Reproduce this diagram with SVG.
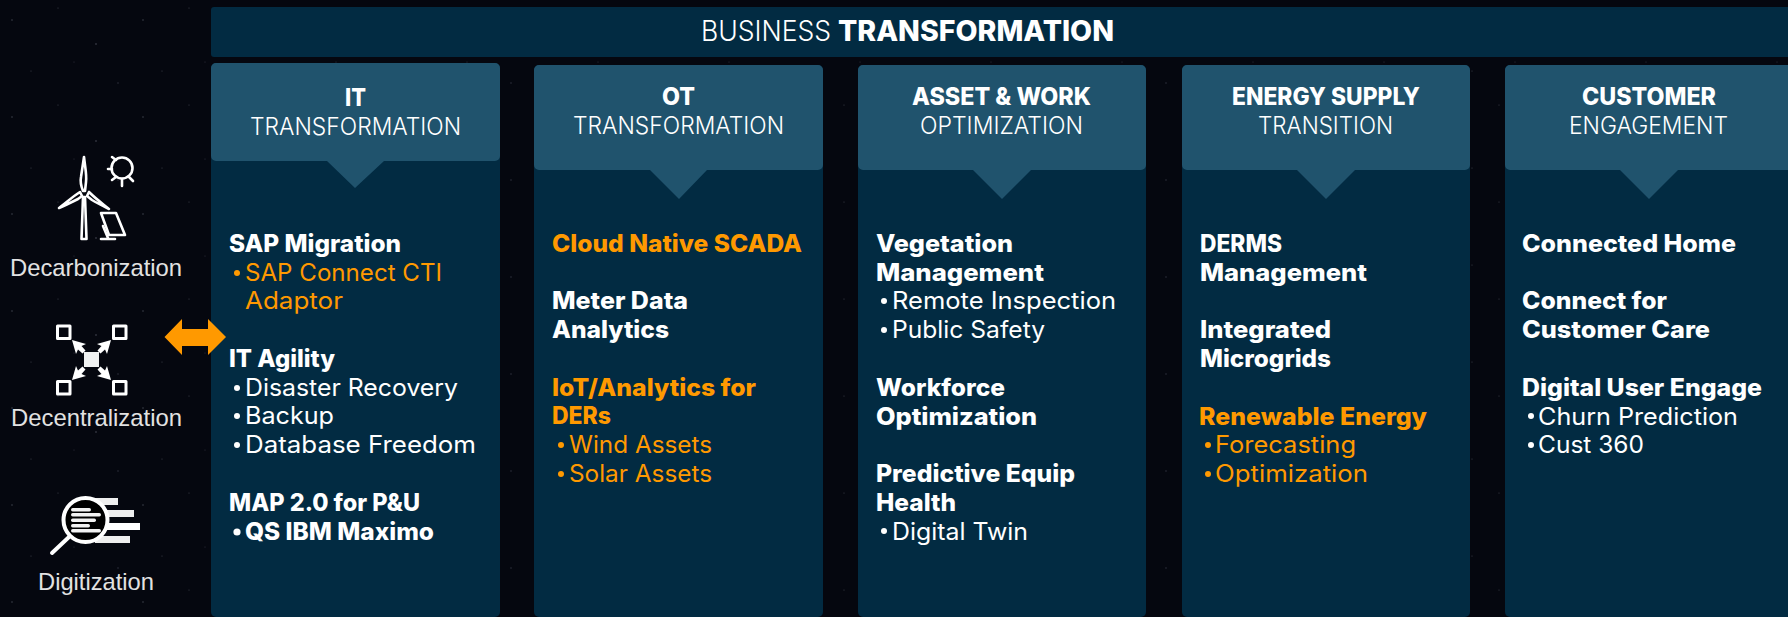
<svg xmlns="http://www.w3.org/2000/svg" width="1788" height="617" viewBox="0 0 1788 617">
<style>
text{font-family:Inter,"Liberation Sans",sans-serif;font-size:24px;fill:#fff;font-weight:400}
.b{font-weight:800}
.r{font-weight:400}
.o{fill:#ff9900}
.h{font-size:24px}
.t{font-weight:300}
.l{font-family:"Liberation Sans",Arial,sans-serif;font-size:24px;fill:#e2e2e2}
.body{fill:#022b42}
.head{fill:#20536d}
.dot{fill:#fff}
.dot.o{fill:#ff9900}
.ic{fill:none;stroke:#fff;stroke-width:2.6;stroke-linejoin:round;stroke-linecap:round}
</style>
<defs>
<pattern id="stars" width="131" height="97" patternUnits="userSpaceOnUse">
<rect width="131" height="97" fill="#05070f"/>
<g fill="#8a90a0">
<circle cx="12" cy="20" r=".7" opacity=".5"/><circle cx="58" cy="8" r=".6" opacity=".4"/><circle cx="96" cy="44" r=".8" opacity=".5"/><circle cx="31" cy="71" r=".6" opacity=".4"/><circle cx="118" cy="83" r=".7" opacity=".35"/><circle cx="74" cy="62" r=".5" opacity=".35"/>
</g>
</pattern>
</defs>
<rect width="1788" height="617" fill="url(#stars)"/>
<g id="banner">
<path class="body" d="M214 7H1788V57H214a3 3 0 0 1-3-3V10a3 3 0 0 1 3-3z"/>
<text class="t" x="701" y="41" style="font-size:28px" textLength="130" lengthAdjust="spacingAndGlyphs">BUSINESS</text>
<text class="b" x="838" y="41" style="font-size:28px" textLength="276" lengthAdjust="spacingAndGlyphs">TRANSFORMATION</text>
</g>
<g id="decarbonization">
<path class="ic" d="M84 157C85 167 87 175 86 182L85 191H83C81 186 80 182 81 177C82 170 83 164 84 157Z"/>
<path class="ic" d="M59 208C66 203 72 197 80 192L82 196L78 199C72 202 66 205 59 208Z"/>
<path class="ic" d="M109 209C103 204 96 199 89 192L87 196L92 200C97 203 103 206 109 209Z"/>
<path class="ic" d="M83 197H85L86.500 239H81.500Z"/>
<circle class="ic" cx="122" cy="168" r="10.500"/>
<path class="ic" d="M108 169H112M112 157L116 160M112 180L116 177M122 179V186M129 177L133 181"/>
<path class="ic" d="M101 213H116L125 235H109Z"/>
<path class="ic" d="M103 226L108 238M101 239H115"/>
<text class="l" x="10" y="276" textLength="172" lengthAdjust="spacingAndGlyphs">Decarbonization</text>
</g>
<g id="decentralization">
<path class="ic" style="stroke-width:3" d="M57.500 326H70V338.500H57.500ZM113.500 326H126V338.500H113.500ZM57.500 381.500H70V394H57.500ZM113.500 381.500H126V394H113.500Z"/>
<rect x="84" y="352" width="15" height="15" fill="#f0f2f2"/>
<path d="M72 340L86 344L81.500 346L85.500 350.500L82.500 353.500L78 349.500L76 354Z M111 340L97 344L101.500 346L97.500 350.500L100.500 353.500L105 349.500L107 354Z M72 380L86 376L81.500 374L85.500 369.500L82.500 366.500L78 370.500L76 366Z M111 380L97 376L101.500 374L97.500 369.500L100.500 366.500L105 370.500L107 366Z" fill="#fff"/>
<text class="l" x="11" y="426" textLength="171" lengthAdjust="spacingAndGlyphs">Decentralization</text>
</g>
<g id="digitization">
<rect x="95" y="498" width="23" height="7" fill="#eeeeee"/>
<rect x="100" y="510" width="34" height="7" fill="#eeeeee"/>
<rect x="100" y="523" width="40" height="7" fill="#ffffff"/>
<rect x="95" y="536" width="35" height="7" fill="#eeeeee"/>
<path d="M52 553L69 537" stroke="#fff" stroke-width="4" stroke-linecap="round"/>
<circle cx="85.500" cy="520" r="22" fill="#000" stroke="#fff" stroke-width="4"/>
<g fill="#f2f2f2"><rect x="71" y="508" width="20" height="3.500" rx="1.700"/><rect x="71" y="513" width="30" height="3.500" rx="1.700"/><rect x="71" y="518.500" width="25" height="3.500" rx="1.700"/><rect x="71" y="524" width="19" height="3.500" rx="1.700"/><rect x="71" y="529" width="30" height="3.500" rx="1.700"/></g>
<text class="l" x="38" y="590" textLength="116" lengthAdjust="spacingAndGlyphs">Digitization</text>
</g>
<g id="col-it">
<rect class="body" x="211" y="63" width="289" height="554" rx="5"/>
<path class="head" d="M216 63H495a5 5 0 0 1 5 5V156a5 5 0 0 1-5 5H384L355 188L327 161H216a5 5 0 0 1-5-5V68a5 5 0 0 1 5-5z"/>
<text class="b h" x="345" y="106" textLength="21" lengthAdjust="spacingAndGlyphs">IT</text>
<text class="t h" x="250" y="135" textLength="211" lengthAdjust="spacingAndGlyphs">TRANSFORMATION</text>
<text class="b" x="229" y="252" textLength="172" lengthAdjust="spacingAndGlyphs">SAP Migration</text>
<circle class="dot o" cx="237" cy="273" r="3"/>
<text class="r o" x="245" y="281" textLength="197" lengthAdjust="spacingAndGlyphs">SAP Connect CTI</text>
<text class="r o" x="245" y="309" textLength="98" lengthAdjust="spacingAndGlyphs">Adaptor</text>
<text class="b" x="229" y="367" textLength="106" lengthAdjust="spacingAndGlyphs">IT Agility</text>
<circle class="dot" cx="237" cy="388" r="3"/>
<text class="r" x="245" y="396" textLength="213" lengthAdjust="spacingAndGlyphs">Disaster Recovery</text>
<circle class="dot" cx="237" cy="416" r="3"/>
<text class="r" x="245" y="424" textLength="89" lengthAdjust="spacingAndGlyphs">Backup</text>
<circle class="dot" cx="237" cy="445" r="3"/>
<text class="r" x="245" y="453" textLength="231" lengthAdjust="spacingAndGlyphs">Database Freedom</text>
<text class="b" x="229" y="511" textLength="191" lengthAdjust="spacingAndGlyphs">MAP 2.0 for P&amp;U</text>
<circle class="dot" cx="237" cy="532" r="3.600"/>
<text class="b" x="245" y="540" textLength="189" lengthAdjust="spacingAndGlyphs">QS IBM Maximo</text>
</g>
<g id="col-ot">
<rect class="body" x="534" y="65" width="289" height="552" rx="5"/>
<path class="head" d="M539 65H818a5 5 0 0 1 5 5V165a5 5 0 0 1-5 5H707L679 199L650 170H539a5 5 0 0 1-5-5V70a5 5 0 0 1 5-5z"/>
<text class="b h" x="662" y="105" textLength="33" lengthAdjust="spacingAndGlyphs">OT</text>
<text class="t h" x="573" y="134" textLength="211" lengthAdjust="spacingAndGlyphs">TRANSFORMATION</text>
<text class="b o" x="552" y="252" textLength="250" lengthAdjust="spacingAndGlyphs">Cloud Native SCADA</text>
<text class="b" x="552" y="309" textLength="136" lengthAdjust="spacingAndGlyphs">Meter Data</text>
<text class="b" x="552" y="338" textLength="117" lengthAdjust="spacingAndGlyphs">Analytics</text>
<text class="b o" x="552" y="396" textLength="204" lengthAdjust="spacingAndGlyphs">IoT/Analytics for</text>
<text class="b o" x="552" y="424" textLength="59" lengthAdjust="spacingAndGlyphs">DERs</text>
<circle class="dot o" cx="561" cy="445" r="3"/>
<text class="r o" x="569" y="453" textLength="143" lengthAdjust="spacingAndGlyphs">Wind Assets</text>
<circle class="dot o" cx="561" cy="474" r="3"/>
<text class="r o" x="569" y="482" textLength="143" lengthAdjust="spacingAndGlyphs">Solar Assets</text>
</g>
<g id="col-asset">
<rect class="body" x="858" y="65" width="288" height="552" rx="5"/>
<path class="head" d="M863 65H1141a5 5 0 0 1 5 5V165a5 5 0 0 1-5 5H1031L1002 199L973 170H863a5 5 0 0 1-5-5V70a5 5 0 0 1 5-5z"/>
<text class="b h" x="912" y="105" textLength="179" lengthAdjust="spacingAndGlyphs">ASSET &amp; WORK</text>
<text class="t h" x="920" y="134" textLength="163" lengthAdjust="spacingAndGlyphs">OPTIMIZATION</text>
<text class="b" x="876" y="252" textLength="137" lengthAdjust="spacingAndGlyphs">Vegetation</text>
<text class="b" x="876" y="281" textLength="168" lengthAdjust="spacingAndGlyphs">Management</text>
<circle class="dot" cx="884" cy="301" r="3"/>
<text class="r" x="892" y="309" textLength="224" lengthAdjust="spacingAndGlyphs">Remote Inspection</text>
<circle class="dot" cx="884" cy="330" r="3"/>
<text class="r" x="892" y="338" textLength="153" lengthAdjust="spacingAndGlyphs">Public Safety</text>
<text class="b" x="876" y="396" textLength="129" lengthAdjust="spacingAndGlyphs">Workforce</text>
<text class="b" x="876" y="425" textLength="161" lengthAdjust="spacingAndGlyphs">Optimization</text>
<text class="b" x="876" y="482" textLength="199" lengthAdjust="spacingAndGlyphs">Predictive Equip</text>
<text class="b" x="876" y="511" textLength="80" lengthAdjust="spacingAndGlyphs">Health</text>
<circle class="dot" cx="884" cy="531" r="3"/>
<text class="r" x="892" y="540" textLength="136" lengthAdjust="spacingAndGlyphs">Digital Twin</text>
</g>
<g id="col-energy">
<rect class="body" x="1182" y="65" width="288" height="552" rx="5"/>
<path class="head" d="M1187 65H1465a5 5 0 0 1 5 5V165a5 5 0 0 1-5 5H1355L1326 199L1297 170H1187a5 5 0 0 1-5-5V70a5 5 0 0 1 5-5z"/>
<text class="b h" x="1232" y="105" textLength="188" lengthAdjust="spacingAndGlyphs">ENERGY SUPPLY</text>
<text class="t h" x="1258" y="134" textLength="135" lengthAdjust="spacingAndGlyphs">TRANSITION</text>
<text class="b" x="1200" y="252" textLength="82" lengthAdjust="spacingAndGlyphs">DERMS</text>
<text class="b" x="1200" y="281" textLength="167" lengthAdjust="spacingAndGlyphs">Management</text>
<text class="b" x="1200" y="338" textLength="131" lengthAdjust="spacingAndGlyphs">Integrated</text>
<text class="b" x="1200" y="367" textLength="131" lengthAdjust="spacingAndGlyphs">Microgrids</text>
<text class="b o" x="1199" y="425" textLength="228" lengthAdjust="spacingAndGlyphs">Renewable Energy</text>
<circle class="dot o" cx="1208" cy="445" r="3"/>
<text class="r o" x="1215" y="453" textLength="141" lengthAdjust="spacingAndGlyphs">Forecasting</text>
<circle class="dot o" cx="1208" cy="474" r="3"/>
<text class="r o" x="1215" y="482" textLength="153" lengthAdjust="spacingAndGlyphs">Optimization</text>
</g>
<g id="col-customer">
<path class="body" d="M1510 65H1788V617H1510a5 5 0 0 1-5-5V70a5 5 0 0 1 5-5z"/>
<path class="head" d="M1510 65H1788V170H1678L1649 199L1620 170H1510a5 5 0 0 1-5-5V70a5 5 0 0 1 5-5z"/>
<text class="b h" x="1582" y="105" textLength="134" lengthAdjust="spacingAndGlyphs">CUSTOMER</text>
<text class="t h" x="1569" y="134" textLength="159" lengthAdjust="spacingAndGlyphs">ENGAGEMENT</text>
<text class="b" x="1522" y="252" textLength="214" lengthAdjust="spacingAndGlyphs">Connected Home</text>
<text class="b" x="1522" y="309" textLength="145" lengthAdjust="spacingAndGlyphs">Connect for</text>
<text class="b" x="1522" y="338" textLength="188" lengthAdjust="spacingAndGlyphs">Customer Care</text>
<text class="b" x="1522" y="396" textLength="240" lengthAdjust="spacingAndGlyphs">Digital User Engage</text>
<circle class="dot" cx="1531" cy="416" r="3"/>
<text class="r" x="1538" y="425" textLength="200" lengthAdjust="spacingAndGlyphs">Churn Prediction</text>
<circle class="dot" cx="1531" cy="445" r="3"/>
<text class="r" x="1538" y="453" textLength="106" lengthAdjust="spacingAndGlyphs">Cust 360</text>
</g>
<g id="connectors">
<path fill="#ff9900" d="M164.500 337L182 319V329H208V319L226 337L208 355V346H182V355Z"/>
</g>
</svg>
